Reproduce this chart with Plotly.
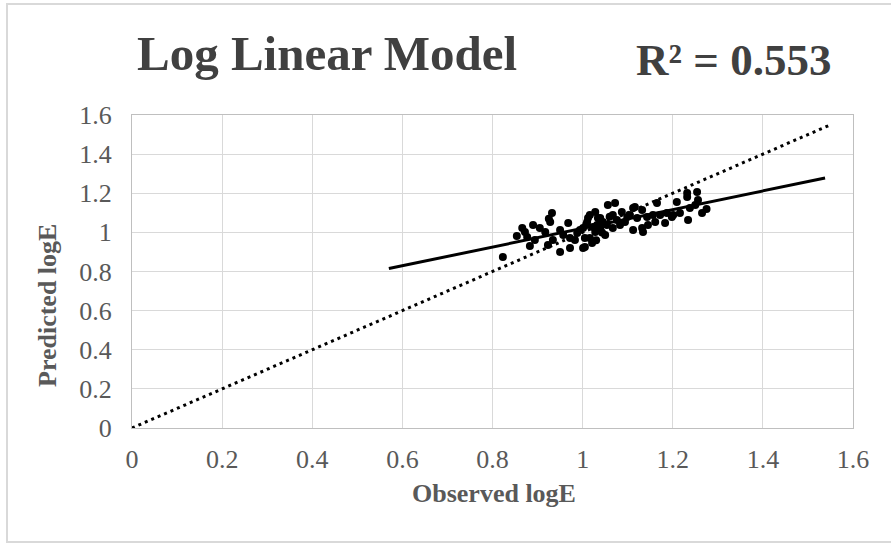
import plotly.graph_objects as go

# Observed / predicted logE values
observed = [0.823, 0.866, 0.890, 0.877, 0.883, 0.932, 0.928, 0.917, 0.934, 0.950,
            0.968, 0.972, 0.988, 1.001, 1.010, 1.028, 1.023, 1.016, 1.034, 1.056,
            1.072, 1.054, 1.067, 1.076, 1.099, 1.116, 1.112, 1.134, 1.132, 1.143,
            1.156, 1.165, 1.161, 1.183, 1.187, 1.201, 1.216, 1.232, 1.234, 1.254,
            1.256, 1.265, 1.275, 1.012, 1.001, 1.005, 1.039, 1.067, 1.087, 1.112,
            1.121, 1.132, 1.198, 1.232, 1.209, 0.994, 1.005, 1.021, 1.028, 1.039,
            1.045, 1.016, 1.032, 1.050, 0.983, 0.957, 0.950, 0.905, 0.872, 0.854,
            0.894, 0.923, 0.972, 1.083, 1.094, 1.105, 1.145, 1.172, 1.238, 1.250,
            0.925, 1.030, 1.043, 1.060, 1.008]
predicted = [0.874, 1.022, 1.038, 0.976, 0.930, 1.099, 1.053, 1.002, 0.961, 0.900,
             1.048, 0.920, 0.997, 0.920, 1.053, 1.104, 1.028, 0.971, 1.074, 1.140,
             1.150, 1.038, 1.022, 1.063, 1.079, 1.130, 1.012, 1.002, 1.115, 1.079,
             1.089, 1.150, 1.053, 1.048, 1.099, 1.089, 1.099, 1.181, 1.063, 1.207,
             1.166, 1.099, 1.120, 1.074, 1.022, 0.925, 1.074, 1.089, 1.104, 1.125,
             1.074, 1.022, 1.079, 1.201, 1.155, 1.012, 0.971, 0.946, 1.002, 1.022,
             1.053, 1.089, 1.038, 0.987, 0.961, 0.987, 1.012, 1.022, 1.002, 0.982,
             0.961, 0.936, 0.971, 1.038, 1.053, 1.089, 1.038, 1.089, 1.125, 1.140,
             1.070, 0.960, 1.000, 1.080, 1.040]

trend_x = [0.57, 1.538]
trend_y = [0.815, 1.278]
ideal_x = [0.0, 1.547]
ideal_y = [0.0, 1.547]

tick_vals = [0, 0.2, 0.4, 0.6, 0.8, 1.0, 1.2, 1.4, 1.6]
tick_text = ["0", "0.2", "0.4", "0.6", "0.8", "1", "1.2", "1.4", "1.6"]

serif = "Liberation Serif"
grid_c = "#d9d9d9"
txt_c = "#595959"

# plot area in pixels
L, R, T, B = 132, 853, 115, 428
W, H = R - L, B - T

def px(xp):
    return (xp - L) / W

def py(yp):
    return (B - yp) / H

fig = go.Figure()
fig.add_trace(go.Scatter(x=ideal_x, y=ideal_y, mode="lines",
                         line=dict(color="black", width=3, dash="3px,4px"),
                         hoverinfo="skip", showlegend=False))
fig.add_trace(go.Scatter(x=observed, y=predicted, mode="markers",
                         marker=dict(color="black", size=8),
                         showlegend=False))
fig.add_trace(go.Scatter(x=trend_x, y=trend_y, mode="lines",
                         line=dict(color="black", width=3),
                         hoverinfo="skip", showlegend=False))

fig.update_layout(
    width=891, height=544,
    margin=dict(l=L, r=891 - R, t=T, b=544 - B),
    paper_bgcolor="white", plot_bgcolor="white",
    font=dict(family=serif, color=txt_c),
    xaxis=dict(range=[0, 1.6], tickvals=tick_vals, ticktext=tick_text,
               showgrid=True, gridcolor=grid_c, gridwidth=1,
               zeroline=False, showline=True, linecolor="#bfbfbf", linewidth=1,
               mirror=True, ticks="", ticklabelstandoff=8,
               tickfont=dict(size=26, family=serif, color=txt_c)),
    yaxis=dict(range=[0, 1.6], tickvals=tick_vals, ticktext=tick_text,
               showgrid=True, gridcolor=grid_c, gridwidth=1,
               zeroline=False, showline=True, linecolor="#bfbfbf", linewidth=1,
               mirror=True, ticks="", ticklabelstandoff=14,
               tickfont=dict(size=26, family=serif, color=txt_c)),
    annotations=[
        dict(text="<b>Log Linear Model</b>", xref="paper", yref="paper",
             x=px(135), y=py(53), xanchor="left", yanchor="middle",
             showarrow=False, font=dict(size=49, family=serif, color="#404040")),
        dict(text="<b>R² = 0.553</b>", xref="paper", yref="paper",
             x=px(833), y=py(60), xanchor="right", yanchor="middle",
             showarrow=False, font=dict(size=45, family=serif, color="#404040")),
        dict(text="<b>Observed logE</b>", xref="paper", yref="paper",
             x=px(494), y=py(493), xanchor="center", yanchor="middle",
             showarrow=False, font=dict(size=26, family=serif, color=txt_c)),
        dict(text="<b>Predicted logE</b>", xref="paper", yref="paper",
             x=px(47), y=py(306), xanchor="center", yanchor="middle", textangle=-90,
             showarrow=False, font=dict(size=26, family=serif, color=txt_c)),
    ],
    shapes=[
        dict(type="rect", xref="paper", yref="paper",
             x0=px(7), x1=px(895), y0=py(542), y1=py(4),
             line=dict(color="#d9d9d9", width=2), fillcolor="rgba(0,0,0,0)", layer="below"),
    ],
)

fig.write_html("out.html")
